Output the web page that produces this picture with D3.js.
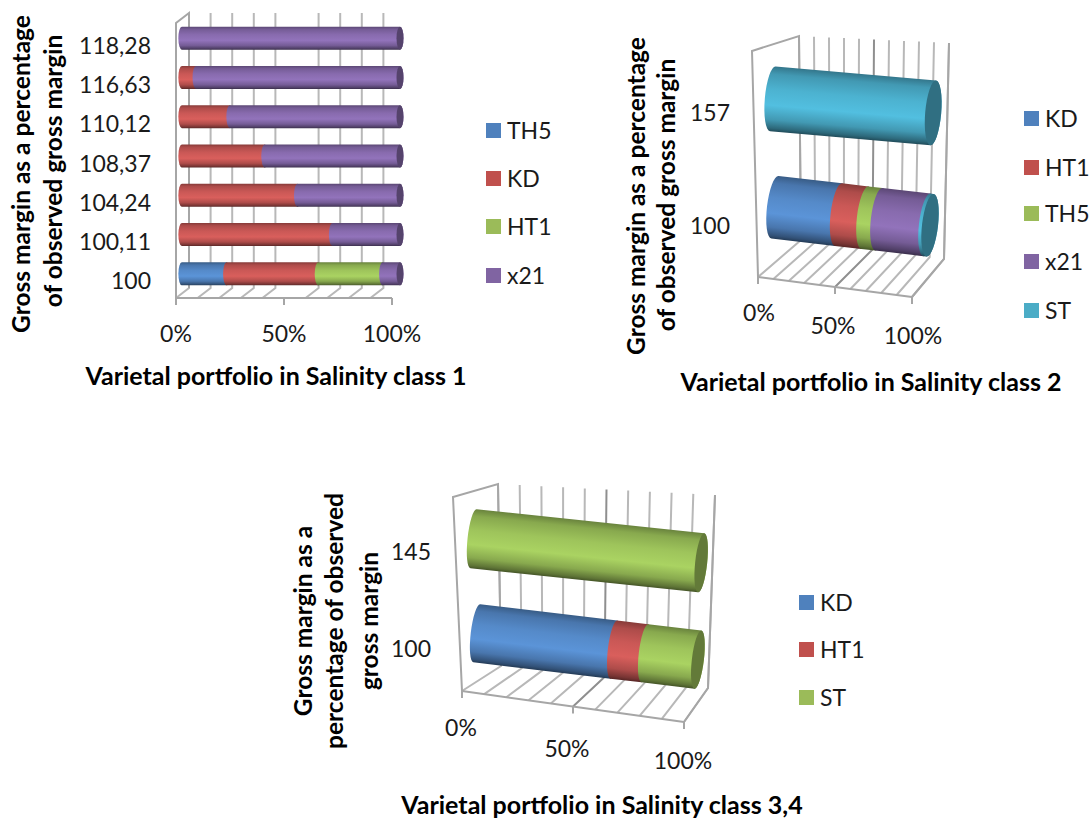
<!DOCTYPE html>
<html>
<head>
<meta charset="utf-8">
<script src="https://cdn.jsdelivr.net/npm/d3@7"></script>
<style>
    body { margin: 0; background: #fff; }
    svg { display: block; }
    text { font-family: Lato, "Open Sans", sans-serif; fill: #1a1a1a; }
    .tick-label { font-size: 23px; }
    .legend-label { font-size: 23px; }
    .axis-title { font-size: 24.5px; font-weight: 700; fill: #000; }
    .x-title { font-size: 25px; font-weight: 700; fill: #000; }
</style>
</head>
<body>
<div id="chart"></div>
<script>
/* ----------------------- Data ----------------------- */
const shareTicks = [0, 50, 100];
const gridShares = [0, 10, 20, 30, 40, 50, 60, 70, 80, 90, 100];

// Salinity class 1, rows listed bottom to top
const class1Categories = ["100", "100,11", "104,24", "108,37", "110,12", "116,63", "118,28"];
const class1Keys = ["TH5", "KD", "HT1", "x21"];
const class1TH5 = [20.5, 0, 0, 0, 0, 0, 0];
const class1KD = [42, 69, 53, 38, 22, 6.5, 0];
const class1HT1 = [29.5, 0, 0, 0, 0, 0, 0];
const class1X21 = [8, 31, 47, 62, 78, 93.5, 100];

// Salinity class 2
const class2Categories = ["100", "157"];
const class2Keys = ["KD", "HT1", "TH5", "x21", "ST"];
const class2KD = [41, 0];
const class2HT1 = [17, 0];
const class2TH5 = [9, 0];
const class2X21 = [31, 0];
const class2ST = [2, 100];

// Salinity class 3,4
const class3Categories = ["100", "145"];
const class3Keys = ["KD", "HT1", "ST"];
const class3KD = [62, 0];
const class3HT1 = [14, 0];
const class3ST = [24, 100];

const seriesColors = ["#5b94d8", "#d95f5c", "#aad362", "#9273bb", "#52bfe0"];
const legendColors = ["#4f81bd", "#c0504d", "#9bbb59", "#8064a2", "#4bacc6"];

/* ----------------------- Panels ----------------------- */
const panels = [
    {
        categories: class1Categories,
        keys: class1Keys,
        values: [class1TH5, class1KD, class1HT1, class1X21],
        // corners of the 3D box: front/back, left/right, bottom/top
        box: {
            fl0: [176, 298], fr0: [392, 298], bl0: [189, 288], br0: [405, 288],
            fl1: [176, 23], fr1: [392, 23], bl1: [189, 13], br1: [405, 13],
        },
        skipGrid: [50, 100],
        rightWall: false,
        ry: [11.5, 11.5], rx: 3.5, depth: 0.45, barEnd: 1.01,
        labelX: 151, labelDy: 2,
        tickDy: [35, 35, 35], tickDx: [0, 0, 0],
        yTitle: ["Gross margin as a percentage", "of observed gross margin"],
        yTitleX: [20, 52], yTitleY: [174, 171],
        xTitle: "Varietal portfolio in Salinity class 1", xTitleX: 276, xTitleY: 375,
        legendX: 486, legendY: [130, 178, 226, 275],
    },
    {
        categories: class2Categories,
        keys: class2Keys,
        values: [class2KD, class2HT1, class2TH5, class2X21, class2ST],
        box: {
            fl0: [758, 277], fr0: [912, 297], bl0: [801, 240], br0: [944, 259],
            fl1: [752, 51], fr1: [919, 66], bl1: [799, 36], br1: [949, 43],
        },
        skipGrid: [],
        rightWall: true,
        ry: [31, 33], rx: 8, depth: 0.42, barEnd: 1.02,
        labelX: 730, labelDy: 4,
        tickDy: [35, 38, 38], tickDx: [1, -2, 1],
        yTitle: ["Gross margin as a percentage", "of observed gross margin"],
        yTitleX: [635, 665], yTitleY: [196, 195],
        xTitle: "Varietal portfolio in Salinity class 2", xTitleX: 871, xTitleY: 381,
        legendX: 1024, legendY: [118, 167, 213, 261, 310],
    },
    {
        categories: class3Categories,
        keys: class3Keys,
        values: [class3KD, class3HT1, class3ST],
        box: {
            fl0: [462, 691], fr0: [684, 722], bl0: [501, 666], br0: [708, 688],
            fl1: [453, 497], fr1: [690, 528], bl1: [498, 484], br1: [715, 495],
        },
        skipGrid: [],
        rightWall: true,
        ry: [29, 30], rx: 6, depth: 0.42, barEnd: 1.01,
        labelX: 431, labelDy: 5,
        tickDy: [36, 41, 38], tickDx: [-1, -6, -1],
        yTitle: ["Gross margin as a", "percentage of observed", "gross margin"],
        yTitleX: [302, 333, 368], yTitleY: [621, 621, 621],
        xTitle: "Varietal portfolio in Salinity class 3,4", xTitleX: 602, xTitleY: 804,
        legendX: 799, legendY: [602, 649, 697],
    },
];

/* ----------------------- Setup ----------------------- */
const svg = d3.select("#chart").append("svg").attr("width", 1090).attr("height", 819);
const defs = svg.append("defs");
let gradientCount = 0;

const shareScale = d3.scaleLinear().domain([0, 100]).range([0, 1]);
const mix = (a, b, t) => [a[0] + (b[0] - a[0]) * t, a[1] + (b[1] - a[1]) * t];

// u along the value axis, d front to back, h floor to top
function projector(box) {
    return (u, d, h) => {
        const bottom = mix(mix(box.fl0, box.fr0, u), mix(box.bl0, box.br0, u), d);
        const top = mix(mix(box.fl1, box.fr1, u), mix(box.bl1, box.br1, u), d);
        return mix(bottom, top, h);
    };
}

function shade(color, amount) {
    return d3.interpolateRgb(color, "#000")(amount);
}

// Cylinder shading runs across the bar, so the gradient follows its tilt
function cylinderGradient(color, start, normal, ry) {
    const id = `cyl-${gradientCount++}`;
    const gradient = defs.append("linearGradient")
        .attr("id", id)
        .attr("gradientUnits", "userSpaceOnUse")
        .attr("x1", start[0] - normal[0] * ry)
        .attr("y1", start[1] - normal[1] * ry)
        .attr("x2", start[0] + normal[0] * ry)
        .attr("y2", start[1] + normal[1] * ry);
    [[0, 0.38], [0.12, 0.2], [0.35, 0.07], [0.6, 0], [0.82, 0.2], [0.95, 0.45], [1, 0.6]].forEach(([offset, dark]) => {
        gradient.append("stop").attr("offset", offset).attr("stop-color", shade(color, dark));
    });
    return `url(#${id})`;
}

/* ----------------------- Draw panels ----------------------- */
panels.forEach((panel) => {
    const g = svg.append("g");
    const project = projector(panel.box);
    const barScale = d3.scaleLinear().domain([0, 100]).range([0, panel.barEnd]);
    const rowScale = d3.scaleBand().domain(panel.categories).range([0, 1]);
    const ryScale = d3.scaleLinear().domain([0, 1]).range(panel.ry);
    const line = d3.line();

    const stroke = (points, width, color) => g.append("path")
        .attr("d", line(points))
        .attr("fill", "none")
        .attr("stroke", color || "#b2b2b2")
        .attr("stroke-width", width || 2);

    /* ----------------------- Walls and floor ----------------------- */
    gridShares.filter((s) => !panel.skipGrid.includes(s)).forEach((s) => {
        const u = shareScale(s);
        const color = s === 50 ? "#8f8f8f" : "#b8b8b8";
        stroke([project(u, 0, 0), project(u, 1, 0), project(u, 1, 1)], 2, color);
    });
    stroke([project(0, 0, 0), project(0, 0, 1), project(0, 1, 1), project(0, 1, 0)], 2, "#a6a6a6");
    stroke([project(0, 0, 0), project(1, 0, 0)], 2, "#a6a6a6");
    if (panel.rightWall) {
        stroke([project(1, 0, 0), project(1, 1, 0), project(1, 1, 1)], 2, "#a6a6a6");
    }

    /* ----------------------- Axis ticks and labels ----------------------- */
    shareTicks.forEach((s, i) => {
        const p = project(shareScale(s), 0, 0);
        stroke([p, [p[0], p[1] + 7]], 2, "#a6a6a6");
        g.append("text")
            .attr("class", "tick-label")
            .attr("x", p[0] + panel.tickDx[i])
            .attr("y", p[1] + panel.tickDy[i])
            .attr("text-anchor", "middle")
            .attr("dominant-baseline", "central")
            .text(`${s}%`);
    });

    panel.categories.forEach((cat) => {
        const h = rowScale(cat) + rowScale.bandwidth() / 2;
        g.append("text")
            .attr("class", "tick-label")
            .attr("x", panel.labelX)
            .attr("y", project(0, 0, h)[1] + panel.labelDy)
            .attr("text-anchor", "end")
            .attr("dominant-baseline", "central")
            .text(cat);
    });

    /* ----------------------- Stacked cylinders ----------------------- */
    panel.categories.forEach((cat, row) => {
        const h = rowScale(cat) + rowScale.bandwidth() / 2;
        const ry = ryScale(h);
        const a = project(barScale(0), panel.depth, h);
        const b = project(barScale(100), panel.depth, h);
        const len = Math.hypot(b[0] - a[0], b[1] - a[1]);
        const normal = [-(b[1] - a[1]) / len, (b[0] - a[0]) / len];
        const angle = Math.atan2(b[1] - a[1], b[0] - a[0]) * 180 / Math.PI;
        const arc = `A${panel.rx},${ry} ${angle} 0 1`;
        let acc = 0;
        let lastColor = null;

        panel.values.forEach((series, k) => {
            const v = series[row];
            if (!v) return;
            const s = project(barScale(acc), panel.depth, h);
            const e = project(barScale(acc + v), panel.depth, h);
            acc += v;
            lastColor = seriesColors[k];
            const up = (p) => `${p[0] - normal[0] * ry},${p[1] - normal[1] * ry}`;
            const down = (p) => `${p[0] + normal[0] * ry},${p[1] + normal[1] * ry}`;
            g.append("path")
                .attr("d", `M${up(s)}L${up(e)}${arc} ${down(e)}L${down(s)}${arc} ${up(s)}Z`)
                .attr("fill", cylinderGradient(lastColor, s, normal, ry));
        });

        g.append("ellipse")
            .attr("transform", `translate(${b[0]},${b[1]}) rotate(${angle})`)
            .attr("rx", panel.rx)
            .attr("ry", ry)
            .attr("fill", shade(lastColor, 0.42));
    });

    /* ----------------------- Titles ----------------------- */
    panel.yTitle.forEach((t, i) => {
        g.append("text")
            .attr("class", "axis-title")
            .attr("transform", `translate(${panel.yTitleX[i]},${panel.yTitleY[i]}) rotate(-90)`)
            .attr("text-anchor", "middle")
            .attr("dominant-baseline", "central")
            .text(t);
    });

    g.append("text")
        .attr("class", "x-title")
        .attr("x", panel.xTitleX)
        .attr("y", panel.xTitleY)
        .attr("text-anchor", "middle")
        .attr("dominant-baseline", "central")
        .text(panel.xTitle);

    /* ----------------------- Legend ----------------------- */
    panel.keys.forEach((key, i) => {
        g.append("rect")
            .attr("x", panel.legendX)
            .attr("y", panel.legendY[i] - 7)
            .attr("width", 15)
            .attr("height", 15)
            .attr("fill", legendColors[i]);
        g.append("text")
            .attr("class", "legend-label")
            .attr("x", panel.legendX + 21)
            .attr("y", panel.legendY[i])
            .attr("dominant-baseline", "central")
            .text(key);
    });
});
</script>
</body>
</html>
